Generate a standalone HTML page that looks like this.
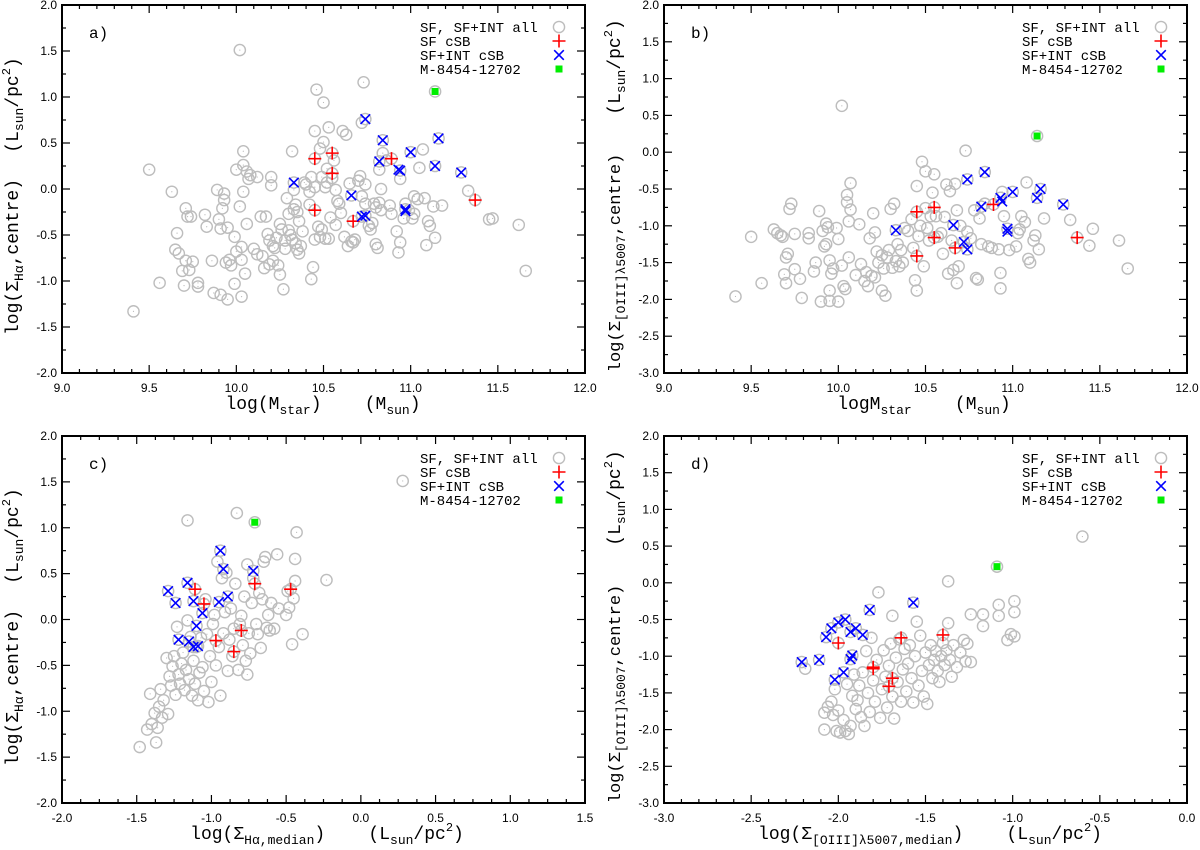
<!DOCTYPE html>
<html><head><meta charset="utf-8"><style>
html,body{margin:0;padding:0;background:#fff;}
svg{display:block;}
.tick{font-family:"Liberation Sans",sans-serif;font-size:12px;fill:#000;}
.mono{font-family:"Liberation Mono",monospace;fill:#000;white-space:pre;}
</style></head><body>
<svg id="chart" width="1200" height="850" xmlns="http://www.w3.org/2000/svg" xml:space="preserve"></svg>
<script>
// ---- Panel a: log Mstar vs log Sigma Halpha centre ----
const aGrey=[[9.41,-1.33],[9.50,0.21],[9.56,-1.02],[9.63,-0.03],[9.66,-0.48],[9.65,-0.66],[9.67,-0.70],[9.69,-0.89],[9.70,-1.05],[9.71,-0.78],[9.71,-0.21],[9.72,-0.30],[9.73,-0.88],[9.74,-0.30],[9.75,-0.79],[9.78,-1.02],[9.78,-1.06],[9.82,-0.28],[9.83,-0.41],[9.86,-0.78],[9.87,-1.13],[9.89,-0.01],[9.90,-0.33],[9.91,-1.15],[9.91,-0.43],[9.92,-0.21],[9.93,-0.05],[9.93,-0.12],[9.94,-0.80],[9.95,-1.20],[9.95,-0.42],[9.96,-0.77],[9.97,-0.83],[9.99,-0.52],[9.99,-1.03],[10.0,-0.68],[10.0,0.21],[10.02,1.51],[10.02,-0.19],[10.03,-0.63],[10.03,-0.77],[10.03,-1.17],[10.04,0.41],[10.04,0.26],[10.04,-0.03],[10.05,-0.92],[10.06,-0.38],[10.06,0.19],[10.07,0.11],[10.08,0.15],[10.10,-0.65],[10.12,0.13],[10.12,-0.71],[10.14,-0.30],[10.15,-0.73],[10.16,-0.86],[10.17,-0.30],[10.18,-0.49],[10.19,-0.82],[10.19,-0.56],[10.20,0.13],[10.20,0.04],[10.21,-0.62],[10.21,-0.78],[10.22,-0.64],[10.23,-0.53],[10.24,-0.83],[10.25,-0.38],[10.25,-0.93],[10.26,-0.44],[10.27,-1.09],[10.28,-0.65],[10.28,-0.56],[10.29,-0.10],[10.30,-0.45],[10.30,-0.27],[10.31,-0.50],[10.32,0.41],[10.32,-0.55],[10.33,-0.22],[10.33,-0.01],[10.34,-0.17],[10.34,-0.59],[10.35,-0.66],[10.35,-0.25],[10.36,-0.70],[10.36,-0.35],[10.37,-0.62],[10.38,-0.46],[10.39,0.07],[10.40,0.05],[10.42,-0.17],[10.42,-0.03],[10.43,-0.98],[10.43,0.13],[10.44,-0.85],[10.45,0.02],[10.45,0.63],[10.45,-0.55],[10.46,1.08],[10.47,-0.41],[10.48,0.44],[10.48,-0.52],[10.49,-0.44],[10.49,0.13],[10.50,0.94],[10.50,0.51],[10.51,-0.54],[10.51,0.02],[10.52,0.22],[10.52,0.07],[10.53,0.67],[10.53,-0.54],[10.54,-0.31],[10.55,0.12],[10.56,0.31],[10.57,-0.01],[10.57,-0.39],[10.58,-0.13],[10.59,-0.16],[10.60,-0.26],[10.61,0.63],[10.62,-0.52],[10.63,0.59],[10.64,-0.62],[10.65,0.06],[10.66,-0.57],[10.67,-0.58],[10.68,-0.55],[10.70,0.09],[10.71,0.14],[10.72,0.72],[10.72,-0.08],[10.73,1.16],[10.74,0.05],[10.74,-0.16],[10.76,-0.40],[10.77,-0.44],[10.78,-0.37],[10.79,-0.16],[10.80,-0.20],[10.80,-0.60],[10.81,-0.64],[10.82,-0.15],[10.82,0.21],[10.83,0.0],[10.83,-0.23],[10.84,0.39],[10.86,0.31],[10.88,-0.18],[10.89,-0.27],[10.92,-0.46],[10.93,-0.69],[10.94,-0.58],[10.94,0.11],[10.96,-0.32],[10.97,-0.16],[10.99,-0.23],[11.01,-0.32],[11.02,-0.27],[11.02,-0.08],[11.04,-0.11],[11.05,0.23],[11.07,0.43],[11.08,-0.10],[11.09,-0.61],[11.10,-0.35],[11.11,-0.40],[11.13,-0.19],[11.14,-0.53],[11.18,-0.18],[11.33,-0.02],[11.45,-0.33],[11.47,-0.32],[11.62,-0.39],[11.66,-0.89],[11.14,1.06],[10.45,0.33],[10.55,0.39],[10.55,0.17],[10.45,-0.23],[10.67,-0.35],[10.89,0.33],[11.37,-0.12],[10.33,0.07],[10.74,0.76],[10.84,0.53],[10.82,0.30],[10.94,0.20],[11.0,0.40],[11.16,0.55],[11.14,0.25],[11.29,0.18],[10.66,-0.07],[10.72,-0.30],[10.74,-0.29],[10.97,-0.22]];
const aRed=[[10.45,0.33],[10.55,0.39],[10.55,0.17],[10.45,-0.23],[10.67,-0.35],[10.89,0.33],[11.37,-0.12]];
const aBlue=[[10.33,0.07],[10.74,0.76],[10.84,0.53],[10.82,0.30],[10.94,0.20],[10.93,0.21],[11.0,0.40],[11.16,0.55],[11.14,0.25],[11.29,0.18],[10.66,-0.07],[10.72,-0.30],[10.74,-0.29],[10.97,-0.22],[10.97,-0.24]];
const aGreen=[[11.14,1.06]];
// ---- Panel b: log Mstar vs log Sigma OIII centre ----
const bGrey=[[9.41,-1.96],[9.50,-1.15],[9.56,-1.78],[9.63,-1.05],[9.65,-1.10],[9.67,-1.13],[9.68,-1.15],[9.69,-1.66],[9.70,-1.43],[9.70,-1.78],[9.71,-1.38],[9.72,-0.77],[9.73,-0.70],[9.75,-1.11],[9.75,-1.59],[9.78,-1.72],[9.79,-1.98],[9.83,-1.10],[9.83,-1.17],[9.86,-1.62],[9.87,-1.50],[9.89,-0.80],[9.90,-2.03],[9.91,-1.07],[9.92,-1.28],[9.93,-0.97],[9.93,-1.25],[9.94,-1.02],[9.95,-2.02],[9.95,-1.47],[9.95,-1.88],[9.96,-1.65],[9.97,-1.58],[9.99,-1.03],[10.0,-1.18],[10.0,-2.03],[10.02,0.63],[10.02,-1.54],[10.03,-1.82],[10.04,-1.86],[10.05,-0.58],[10.05,-0.68],[10.06,-0.94],[10.06,-1.43],[10.07,-0.42],[10.07,-0.78],[10.1,-1.67],[10.12,-0.98],[10.13,-1.52],[10.15,-1.75],[10.16,-1.63],[10.17,-1.82],[10.18,-1.17],[10.19,-1.68],[10.20,-0.83],[10.21,-1.09],[10.21,-1.70],[10.22,-1.35],[10.23,-1.50],[10.25,-1.40],[10.25,-1.88],[10.26,-1.58],[10.27,-1.95],[10.28,-1.43],[10.29,-1.33],[10.30,-0.77],[10.31,-1.57],[10.32,-0.70],[10.33,-1.48],[10.34,-1.25],[10.35,-1.55],[10.36,-1.33],[10.37,-1.50],[10.38,-1.03],[10.40,-1.07],[10.42,-0.91],[10.43,-1.30],[10.44,-1.74],[10.45,-1.88],[10.45,-0.46],[10.46,-1.14],[10.47,-1.00],[10.48,-0.13],[10.49,-1.55],[10.50,-0.26],[10.50,-0.76],[10.51,-1.03],[10.52,-1.20],[10.53,-0.87],[10.54,-0.55],[10.55,-0.30],[10.56,-0.87],[10.57,-1.15],[10.59,-1.10],[10.60,-1.38],[10.61,-0.88],[10.62,-0.44],[10.63,-1.65],[10.64,-0.53],[10.65,-1.20],[10.66,-1.60],[10.67,-0.43],[10.68,-0.79],[10.68,-1.78],[10.69,-1.55],[10.70,-1.00],[10.72,-1.22],[10.73,0.02],[10.74,-1.08],[10.76,-1.17],[10.78,-0.79],[10.79,-1.71],[10.80,-1.73],[10.81,-0.90],[10.82,-1.25],[10.84,-0.70],[10.86,-1.28],[10.88,-1.30],[10.92,-1.32],[10.93,-1.64],[10.93,-1.85],[10.94,-0.54],[10.95,-0.87],[10.98,-1.33],[11.02,-1.28],[11.03,-1.10],[11.04,-1.05],[11.05,-0.87],[11.07,-0.95],[11.08,-0.41],[11.09,-1.45],[11.10,-1.50],[11.12,-1.20],[11.13,-1.13],[11.15,-1.32],[11.18,-0.90],[11.33,-0.92],[11.44,-1.27],[11.46,-1.04],[11.61,-1.20],[11.66,-1.58],[11.14,0.22],[10.45,-0.81],[10.55,-0.75],[10.55,-1.16],[10.45,-1.41],[10.67,-1.30],[10.89,-0.71],[11.37,-1.16],[10.33,-1.06],[10.74,-0.37],[10.84,-0.27],[10.82,-0.74],[10.93,-0.62],[11.0,-0.54],[11.16,-0.50],[11.14,-0.62],[11.29,-0.71],[10.66,-0.99],[10.72,-1.22],[10.74,-1.32],[10.97,-1.04]];
const bRed=[[10.45,-0.81],[10.55,-0.75],[10.55,-1.16],[10.45,-1.41],[10.67,-1.30],[10.89,-0.71],[11.37,-1.16]];
const bBlue=[[10.33,-1.06],[10.74,-0.37],[10.84,-0.27],[10.82,-0.74],[10.93,-0.62],[10.94,-0.67],[11.0,-0.54],[11.16,-0.50],[11.14,-0.62],[11.29,-0.71],[10.66,-0.99],[10.72,-1.22],[10.74,-1.32],[10.97,-1.04],[10.97,-1.08]];
const bGreen=[[11.14,0.22]];
// ---- Panel c: Halpha median vs centre ----
const cGrey=[[-1.48,-1.39],[-1.43,-1.20],[-1.41,-0.81],[-1.40,-1.14],[-1.38,-1.02],[-1.37,-1.34],[-1.36,-1.18],[-1.35,-0.95],[-1.34,-0.76],[-1.33,-1.07],[-1.32,-0.88],[-1.30,-0.42],[-1.29,-1.03],[-1.28,-0.62],[-1.27,-0.72],[-1.26,-0.51],[-1.25,-0.40],[-1.24,-0.82],[-1.23,-0.08],[-1.22,-0.60],[-1.21,-0.70],[-1.20,-0.48],[-1.19,-0.36],[-1.18,-0.77],[-1.17,-0.55],[-1.16,1.08],[-1.16,-0.01],[-1.15,-0.65],[-1.14,-0.19],[-1.13,-0.83],[-1.12,-0.45],[-1.11,-0.70],[-1.10,-0.30],[-1.09,-0.88],[-1.08,-0.58],[-1.07,-0.20],[-1.06,-0.52],[-1.05,-0.78],[-1.04,0.22],[-1.03,-0.16],[-1.02,-0.90],[-1.01,-0.40],[-1.00,-0.68],[-0.99,-0.05],[-0.98,0.05],[-0.97,-0.50],[-0.96,0.63],[-0.95,-0.30],[-0.94,-0.83],[-0.93,0.45],[-0.92,-0.15],[-0.91,0.08],[-0.90,0.51],[-0.89,-0.56],[-0.88,-0.22],[-0.87,0.12],[-0.86,-0.40],[-0.85,-0.10],[-0.84,0.39],[-0.83,1.16],[-0.82,-0.55],[-0.81,-0.05],[-0.80,0.04],[-0.79,-0.28],[-0.78,0.25],[-0.77,-0.45],[-0.76,0.60],[-0.76,-0.60],[-0.75,-0.15],[-0.74,-0.37],[-0.73,0.18],[-0.72,0.45],[-0.70,-0.05],[-0.69,-0.16],[-0.68,0.29],[-0.67,-0.31],[-0.66,0.22],[-0.65,0.63],[-0.64,0.68],[-0.63,-0.09],[-0.62,0.05],[-0.61,-0.12],[-0.60,0.18],[-0.58,-0.10],[-0.56,0.71],[-0.55,0.12],[-0.50,0.05],[-0.49,0.31],[-0.48,0.13],[-0.46,-0.27],[-0.45,0.23],[-0.44,0.42],[-0.44,0.66],[-0.43,0.95],[-0.39,-0.16],[-0.23,0.43],[0.28,1.51],[-0.71,1.06],[-1.11,0.33],[-1.05,0.17],[-0.97,-0.23],[-0.85,-0.35],[-0.80,-0.12],[-0.71,0.39],[-0.47,0.33],[-1.29,0.31],[-1.24,0.18],[-1.16,0.40],[-1.12,0.20],[-1.06,0.07],[-1.10,-0.07],[-1.22,-0.22],[-1.15,-0.24],[-1.12,-0.30],[-1.09,-0.29],[-0.94,0.75],[-0.92,0.55],[-0.95,0.19],[-0.89,0.25],[-0.72,0.53]];
const cRed=[[-1.11,0.33],[-1.05,0.17],[-0.97,-0.23],[-0.85,-0.35],[-0.80,-0.12],[-0.71,0.39],[-0.47,0.33]];
const cBlue=[[-1.29,0.31],[-1.24,0.18],[-1.16,0.40],[-1.12,0.20],[-1.06,0.07],[-1.10,-0.07],[-1.22,-0.22],[-1.15,-0.24],[-1.12,-0.30],[-1.09,-0.29],[-0.94,0.75],[-0.92,0.55],[-0.95,0.19],[-0.89,0.25],[-0.72,0.53]];
const cGreen=[[-0.71,1.06]];
// ---- Panel d: OIII median vs centre ----
const dGrey=[[-2.19,-1.17],[-2.08,-1.77],[-2.08,-2.00],[-2.06,-1.69],[-2.04,-1.62],[-2.03,-1.80],[-2.02,-1.45],[-2.01,-2.02],[-2.00,-1.74],[-1.99,-2.04],[-1.97,-1.87],[-1.96,-2.02],[-1.95,-1.38],[-1.94,-2.06],[-1.93,-1.95],[-1.92,-1.54],[-1.91,-1.25],[-1.90,-1.72],[-1.89,-1.60],[-1.88,-1.40],[-1.87,-1.83],[-1.86,-1.22],[-1.85,-1.95],[-1.84,-0.93],[-1.83,-1.50],[-1.82,-1.76],[-1.81,-0.75],[-1.80,-1.33],[-1.79,-1.62],[-1.78,-1.05],[-1.77,-0.13],[-1.76,-1.84],[-1.75,-1.45],[-1.74,-0.92],[-1.73,-1.28],[-1.72,-1.70],[-1.71,-1.13],[-1.70,-0.83],[-1.69,-1.55],[-1.69,-0.45],[-1.68,-1.85],[-1.67,-1.02],[-1.66,-1.35],[-1.65,-0.77],[-1.64,-1.62],[-1.63,-1.18],[-1.62,-0.90],[-1.61,-1.48],[-1.60,-1.10],[-1.59,-0.85],[-1.58,-1.30],[-1.57,-1.63],[-1.56,-1.00],[-1.55,-0.53],[-1.54,-1.40],[-1.53,-0.72],[-1.52,-1.20],[-1.51,-1.55],[-1.50,-0.95],[-1.49,-1.65],[-1.48,-1.12],[-1.47,-0.85],[-1.46,-1.30],[-1.45,-1.05],[-1.44,-0.93],[-1.43,-1.20],[-1.42,-1.35],[-1.41,-1.00],[-1.40,-0.82],[-1.39,-1.12],[-1.38,-0.92],[-1.37,0.02],[-1.37,-0.55],[-1.36,-1.05],[-1.35,-1.28],[-1.34,-0.85],[-1.32,-1.15],[-1.30,-0.95],[-1.28,-0.78],[-1.27,-1.07],[-1.26,-0.83],[-1.24,-0.43],[-1.24,-1.08],[-1.17,-0.43],[-1.17,-0.59],[-1.08,-0.30],[-1.08,-0.45],[-1.03,-0.78],[-1.01,-0.70],[-0.99,-0.25],[-0.99,-0.40],[-0.99,-0.73],[-0.60,0.63],[-1.09,0.22],[-2.00,-0.82],[-1.80,-1.15],[-1.71,-1.41],[-1.69,-1.30],[-1.64,-0.75],[-1.40,-0.71],[-2.21,-1.08],[-2.11,-1.05],[-2.07,-0.74],[-2.04,-0.62],[-2.00,-0.54],[-1.96,-0.50],[-1.93,-0.67],[-1.90,-0.62],[-1.86,-0.71],[-1.82,-0.37],[-1.57,-0.27],[-1.93,-1.04],[-1.92,-0.99],[-1.97,-1.22],[-2.02,-1.32]];
const dRed=[[-2.00,-0.82],[-1.80,-1.15],[-1.80,-1.17],[-1.71,-1.41],[-1.69,-1.30],[-1.64,-0.75],[-1.40,-0.71]];
const dBlue=[[-2.21,-1.08],[-2.11,-1.05],[-2.07,-0.74],[-2.04,-0.62],[-2.00,-0.54],[-1.96,-0.50],[-1.93,-0.67],[-1.90,-0.62],[-1.86,-0.71],[-1.82,-0.37],[-1.57,-0.27],[-1.93,-1.04],[-1.92,-0.99],[-1.97,-1.22],[-2.02,-1.32]];
const dGreen=[[-1.09,0.22]];
// tick labels
const xTicksAB=["9.0","9.5","10.0","10.5","11.0","11.5","12.0"];
const yTicksA=["-2.0","-1.5","-1.0","-0.5","0.0","0.5","1.0","1.5","2.0"];
const yTicksB=["-3.0","-2.5","-2.0","-1.5","-1.0","-0.5","0.0","0.5","1.0","1.5","2.0"];
const xTicksC=["-2.0","-1.5","-1.0","-0.5","0.0","0.5","1.0","1.5"];
const xTicksD=["-3.0","-2.5","-2.0","-1.5","-1.0","-0.5","0.0"];
const legendLabels=["SF, SF+INT all","SF cSB","SF+INT cSB","M-8454-12702"];

const NS="http://www.w3.org/2000/svg";
const svg=document.getElementById('chart');
function mk(tag,attrs,parent){const e=document.createElementNS(NS,tag);for(const k in attrs)e.setAttribute(k,attrs[k]);(parent||svg).appendChild(e);return e;}

function panel(p){
  const g=mk('g',{});
  
  
  const X=v=>p.L+(v-p.x0)/(p.x1-p.x0)*(p.R-p.L);
  const Y=v=>p.B-(v-p.y0)/(p.y1-p.y0)*(p.B-p.T);
  const xt=p.xTicks.map(Number), yt=p.yTicks.map(Number);
  for(let v=p.x0;v<=p.x1+1e-9;v+=p.xMinor){
    const major=xt.some(t=>Math.abs(t-v)<1e-6);const len=major?8:4;const x=X(v);
    mk('line',{x1:x,x2:x,y1:p.B,y2:p.B-len,stroke:'#000','stroke-width':1.2},g);
    mk('line',{x1:x,x2:x,y1:p.T,y2:p.T+len,stroke:'#000','stroke-width':1.2},g);
  }
  for(let v=p.y0;v<=p.y1+1e-9;v+=p.yMinor){
    const major=yt.some(t=>Math.abs(t-v)<1e-6);const len=major?8:4;const y=Y(v);
    mk('line',{x1:p.L,x2:p.L+len,y1:y,y2:y,stroke:'#000','stroke-width':1.2},g);
    mk('line',{x1:p.R,x2:p.R-len,y1:y,y2:y,stroke:'#000','stroke-width':1.2},g);
  }
  p.xTicks.forEach(t=>{const e=mk('text',{x:X(+t),y:p.B+19,'text-anchor':'middle',class:'tick'},g);e.textContent=t;
    
    });
  p.yTicks.forEach(t=>{const e=mk('text',{x:p.L-5,y:Y(+t)+4,'text-anchor':'end',class:'tick'},g);e.textContent=t;
    
    });
  const fr=mk('rect',{x:p.L,y:p.T,width:p.R-p.L,height:p.B-p.T,fill:'none',stroke:'#000','stroke-width':2},g);
  
  
  const pts=mk('g',{},g);
  
  
  p.grey.forEach(d=>{const cx=X(d[0]),cy=Y(d[1]);
    const c=mk('circle',{cx:cx,cy:cy,r:5.6,fill:'none',stroke:'#bdbdbd','stroke-width':1.4},pts);
    
    
    mk('circle',{cx:cx,cy:cy,r:0.6,fill:'#bbb'},pts);});
  const rg=mk('g',{},g);
  
  
  p.red.forEach(d=>{const cx=X(d[0]),cy=Y(d[1]);
    const e=mk('path',{d:`M${cx-6.5},${cy}H${cx+6.5}M${cx},${cy-6.5}V${cy+6.5}`,stroke:'#f00','stroke-width':1.6,fill:'none'},rg);
    
    });
  const bg=mk('g',{},g);
  
  
  p.blue.forEach(d=>{const cx=X(d[0]),cy=Y(d[1]);const s=4.8;
    const e=mk('path',{d:`M${cx-s},${cy-s}L${cx+s},${cy+s}M${cx-s},${cy+s}L${cx+s},${cy-s}`,stroke:'#00f','stroke-width':1.6,fill:'none'},bg);
    
    });
  p.green.forEach(d=>{const cx=X(d[0]),cy=Y(d[1]);
    const e=mk('rect',{x:cx-3.5,y:cy-3.5,width:7,height:7,fill:'#00ee00'},g);
    
    });
  const lt=mk('text',{x:p.L+27,y:p.T+33,class:'mono','font-size':16},g);lt.textContent=p.id+')';
  
  
  const lg=mk('g',{},g);
  
  
  legendLabels.forEach((lab,i)=>{
    const ly=p.T+p.legY+i*14;
    const t=mk('text',{x:p.L+358,y:ly+5,class:'mono','font-size':14},lg);t.textContent=lab;
    
    
    const sx=p.L+497;
    if(i===0)mk('circle',{cx:sx,cy:ly,r:5.6,fill:'none',stroke:'#bdbdbd','stroke-width':1.4},lg);
    if(i===1)mk('path',{d:`M${sx-6.5},${ly}H${sx+6.5}M${sx},${ly-6.5}V${ly+6.5}`,stroke:'#f00','stroke-width':1.6},lg);
    if(i===2)mk('path',{d:`M${sx-4.8},${ly-4.8}L${sx+4.8},${ly+4.8}M${sx-4.8},${ly+4.8}L${sx+4.8},${ly-4.8}`,stroke:'#00f','stroke-width':1.6},lg);
    if(i===3)mk('rect',{x:sx-3.5,y:ly-3.5,width:7,height:7,fill:'#00ee00'},lg);
  });
  const xtl=mk('text',{x:p.xtX,y:p.B+36,'text-anchor':'middle',class:'mono','font-size':18},g);
  xtl.innerHTML=p.xTitle;
  
  
  const ytl=mk('text',{transform:`translate(${p.L-44},${p.T+p.ytC}) rotate(-90)`,'text-anchor':'middle',class:'mono','font-size':p.ytF},g);
  ytl.innerHTML=p.yTitle1;
  
  
  const ytu=mk('text',{transform:`translate(${p.L-44},${p.T+p.yuC}) rotate(-90)`,'text-anchor':'middle',class:'mono','font-size':18},g);
  ytu.innerHTML='(L<tspan font-size="13" dy="5">sun</tspan><tspan dy="-5">/pc</tspan><tspan font-size="12" dy="-8">2</tspan><tspan dy="8">)</tspan>';
  
  
}
const sub=(s)=>`<tspan font-size="13" dy="5">${s}</tspan><tspan dy="-5">`;
const unitX='(L<tspan font-size="13" dy="5">sun</tspan><tspan dy="-5">/pc</tspan><tspan font-size="12" dy="-8">2</tspan><tspan dy="8">)</tspan>';
const SP='\u00a0\u00a0\u00a0\u00a0';
panel({id:'a',L:62,R:585,T:5,B:373,x0:9,x1:12,y0:-2,y1:2,xMinor:0.1,yMinor:0.25,xTicks:xTicksAB,yTicks:yTicksA,
  grey:aGrey,red:aRed,blue:aBlue,green:aGreen,legY:22,xtX:323,ytC:252,ytF:18,yuC:100,
  xTitle:'log(M'+sub('star')+')'+SP+'(M'+sub('sun')+')</tspan></tspan>',
  yTitle1:'log(Σ'+sub('Hα')+',centre)</tspan>'});
panel({id:'b',L:664,R:1187,T:5,B:373,x0:9,x1:12,y0:-3,y1:2,xMinor:0.1,yMinor:0.25,xTicks:xTicksAB,yTicks:yTicksB,
  grey:bGrey,red:bRed,blue:bBlue,green:bGreen,legY:22,xtX:924,ytC:258,ytF:17,yuC:62,
  xTitle:'logM'+sub('star')+SP+'(M'+sub('sun')+')</tspan></tspan>',
  yTitle1:'log(Σ'+sub('[OIII]λ5007')+',centre)</tspan>'});
panel({id:'c',L:62,R:585,T:436,B:803,x0:-2,x1:1.5,y0:-2,y1:2,xMinor:0.125,yMinor:0.25,xTicks:xTicksC,yTicks:yTicksA,
  grey:cGrey,red:cRed,blue:cBlue,green:cGreen,legY:22,xtX:327,ytC:252,ytF:18,yuC:100,
  xTitle:'log(Σ'+sub('Hα,median')+')'+SP+'</tspan>'+unitX,
  yTitle1:'log(Σ'+sub('Hα')+',centre)</tspan>'});
panel({id:'d',L:664,R:1187,T:436,B:803,x0:-3,x1:0,y0:-3,y1:2,xMinor:0.1,yMinor:0.25,xTicks:xTicksD,yTicks:yTicksB,
  grey:dGrey,red:dRed,blue:dBlue,green:dGreen,legY:22,xtX:930,ytC:258,ytF:17,yuC:62,
  xTitle:'log(Σ'+sub('[OIII]λ5007,median')+')'+SP+'</tspan>'+unitX,
  yTitle1:'log(Σ'+sub('[OIII]λ5007')+',centre)</tspan>'});
</script>
</body></html>
